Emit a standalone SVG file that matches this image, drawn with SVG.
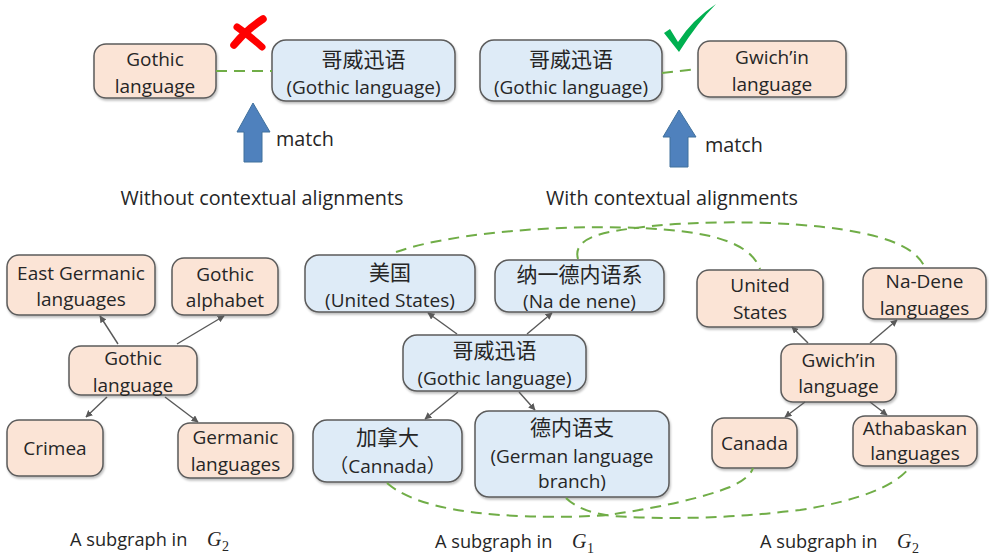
<svg xmlns="http://www.w3.org/2000/svg" width="989" height="556" viewBox="0 0 989 556">
<defs>
<filter id="sh" x="-10%" y="-10%" width="125%" height="130%">
<feDropShadow dx="1" dy="2" stdDeviation="1.2" flood-color="#000" flood-opacity="0.25"/>
</filter>
<marker id="ah" viewBox="0 0 10 10" refX="9" refY="5" markerWidth="7" markerHeight="7" orient="auto" markerUnits="userSpaceOnUse">
<path d="M0,0 L10,5 L0,10 z" fill="#595959"/>
</marker>
<style>
.pe{fill:#fbe4d6;stroke:#5b5b5b;stroke-width:1.5;filter:url(#sh)}
.bl{fill:#deebf7;stroke:#5b5b5b;stroke-width:1.5;filter:url(#sh)}
text{font-family:"Open Sans","Noto Sans CJK SC",sans-serif;fill:#262626;font-size:19px;text-anchor:middle}
.cj{font-family:"Noto Sans CJK SC",sans-serif;font-size:21px}
.lb{font-size:19.8px}
.sg{font-family:"Open Sans",sans-serif;font-size:18.2px;text-anchor:start}
.gm{font-family:"Liberation Serif",serif;font-style:italic;font-size:20px;text-anchor:start}
.sub{font-family:"Liberation Serif",serif;font-size:14px;text-anchor:start}
.ar{stroke:#595959;stroke-width:1.4;fill:none;marker-end:url(#ah)}
.dl{stroke:#70ad47;stroke-width:2;fill:none;stroke-dasharray:11 7}
.bk{fill:#4f81bd;stroke:#41719c;stroke-width:1}
</style>
</defs>

<!-- Top-left panel -->
<g id="topL_gothic"><rect class="pe" x="94" y="44" width="122" height="54" rx="12"/><text x="155" y="66">Gothic</text><text x="155" y="93">language</text></g>
<g id="topL_gewei"><rect class="bl" x="272" y="40" width="183" height="61" rx="14"/><text class="cj" x="363.5" y="67">哥威迅语</text><text x="363.5" y="94">(Gothic language)</text></g>
<g id="topR_gewei"><rect class="bl" x="480" y="40" width="182" height="61" rx="14"/><text class="cj" x="571" y="67">哥威迅语</text><text x="571" y="94">(Gothic language)</text></g>
<g id="topR_gwichin"><rect class="pe" x="698" y="41" width="148" height="56" rx="12"/><text x="772" y="64">Gwich’in</text><text x="772" y="91">language</text></g>

<g id="cross"><path d="M237,27 Q250,36 262,47" stroke="#ff0000" stroke-width="7" fill="none" stroke-linecap="round"/><path d="M263,19 Q246,30 234,45" stroke="#ff0000" stroke-width="7.5" fill="none" stroke-linecap="round"/></g>
<g id="check"><path d="M664,33 L670,29 L678,42 Q692,20 716,4 Q698,22 679,52 Z" fill="#00b050"/></g>

<g id="arrowL"><path class="bk" d="M253,103 L270,132 L262,132 L262,162 L244,162 L244,132 L237,132 Z"/></g>
<text class="lb" x="276" y="146" style="text-anchor:start">match</text>
<g id="arrowR"><path class="bk" d="M679,110 L696,137 L688,137 L688,167 L670,167 L670,137 L663,137 Z"/></g>
<text class="lb" x="705" y="152" style="text-anchor:start">match</text>

<text class="lb" x="262" y="205">Without contextual alignments</text>
<text class="lb" x="672" y="205">With contextual alignments</text>

<!-- Bottom-left subgraph -->
<g id="n_eastgerm"><rect class="pe" x="7" y="255" width="148" height="60" rx="12"/><text x="81" y="280">East Germanic</text><text x="81" y="306">languages</text></g>
<g id="n_gothalpha"><rect class="pe" x="172" y="258" width="106" height="57" rx="12"/><text x="225" y="281">Gothic</text><text x="225" y="307">alphabet</text></g>
<g id="n_gothlang"><rect class="pe" x="69" y="346" width="128" height="49" rx="12"/><text x="133" y="365">Gothic</text><text x="133" y="392">language</text></g>
<g id="n_crimea"><rect class="pe" x="7" y="420" width="96" height="56" rx="12"/><text x="55" y="455">Crimea</text></g>
<g id="n_germlang"><rect class="pe" x="178" y="423" width="115" height="55" rx="12"/><text x="235.5" y="444">Germanic</text><text x="235.5" y="471">languages</text></g>

<!-- Middle subgraph -->
<g id="m_usa"><rect class="bl" x="305" y="255" width="170" height="57" rx="14"/><text class="cj" x="390" y="280">美国</text><text x="390" y="307">(United States)</text></g>
<g id="m_nadene"><rect class="bl" x="495" y="260" width="169" height="52" rx="14"/><text class="cj" x="579.5" y="282">纳一德内语系</text><text x="579.5" y="308">(Na de nene)</text></g>
<g id="m_gewei"><rect class="bl" x="403" y="335" width="183" height="56" rx="14"/><text class="cj" x="494.5" y="358">哥威迅语</text><text x="494.5" y="385">(Gothic language)</text></g>
<g id="m_canada"><rect class="bl" x="313" y="420" width="149" height="62" rx="14"/><text class="cj" x="387.5" y="445">加拿大</text><text x="387.5" y="473">（Cannada）</text></g>
<g id="m_dene"><rect class="bl" x="475" y="411" width="194" height="86" rx="14"/><text class="cj" x="572" y="435">德内语支</text><text x="572" y="463">(German language</text><text x="572" y="488">branch)</text></g>

<!-- Right subgraph -->
<g id="r_us"><rect class="pe" x="697" y="270" width="126" height="57" rx="12"/><text x="760" y="292">United</text><text x="760" y="319">States</text></g>
<g id="r_nadene"><rect class="pe" x="863" y="268" width="123" height="51" rx="12"/><text x="924.5" y="288">Na-Dene</text><text x="924.5" y="315">languages</text></g>
<g id="r_gwichin"><rect class="pe" x="781" y="344" width="115" height="58" rx="12"/><text x="838.5" y="367">Gwich’in</text><text x="838.5" y="393">language</text></g>
<g id="r_canada"><rect class="pe" x="712" y="418" width="85" height="50" rx="12"/><text x="754.5" y="450">Canada</text></g>
<g id="r_athab"><rect class="pe" x="853" y="416" width="124" height="50" rx="12"/><text x="915" y="435">Athabaskan</text><text x="915" y="460">languages</text></g>

<!-- Connectors -->
<g id="connectors">
<line class="dl" x1="216" y1="71" x2="272" y2="71" stroke-dasharray="9 14"/>
<line class="dl" x1="662" y1="73" x2="698" y2="69" stroke-dasharray="9 13"/>

<line class="ar" x1="118" y1="344" x2="100" y2="316"/>
<line class="ar" x1="177" y1="344" x2="224" y2="316"/>
<line class="ar" x1="107" y1="397" x2="86" y2="417"/>
<line class="ar" x1="165" y1="397" x2="198" y2="422"/>

<line class="ar" x1="457" y1="334" x2="428" y2="313"/>
<line class="ar" x1="527" y1="334" x2="552" y2="313"/>
<line class="ar" x1="458" y1="392" x2="425" y2="419"/>
<line class="ar" x1="519" y1="392" x2="535" y2="410"/>

<line class="ar" x1="808" y1="343" x2="792" y2="327"/>
<line class="ar" x1="870" y1="343" x2="897" y2="320"/>
<line class="ar" x1="805" y1="402" x2="785" y2="417"/>
<line class="ar" x1="870" y1="402" x2="887" y2="415"/>

<path class="dl" d="M396,252 C470,226 640,220 710,236 Q752,246 760,269"/>
<path class="dl" d="M578,259 Q572,238 615,231 Q680,220 770,223 Q880,228 912,252 Q922,260 925,268"/>
<path class="dl" d="M387,483 Q420,512 520,516 Q570,518 608,515 Q690,503 730,487 Q750,478 753,468"/>
<path class="dl" d="M566,498 Q580,512 612,516 Q700,522 800,510 Q888,496 910,467"/>
</g>

<!-- Captions -->
<text class="sg" x="70" y="546">A subgraph in</text><text class="gm" x="207" y="546">G</text><text class="sub" x="222" y="551">2</text>
<text class="sg" x="435" y="548">A subgraph in</text><text class="gm" x="572" y="548">G</text><text class="sub" x="587" y="553">1</text>
<text class="sg" x="760" y="548">A subgraph in</text><text class="gm" x="897" y="548">G</text><text class="sub" x="912" y="553">2</text>
</svg>
